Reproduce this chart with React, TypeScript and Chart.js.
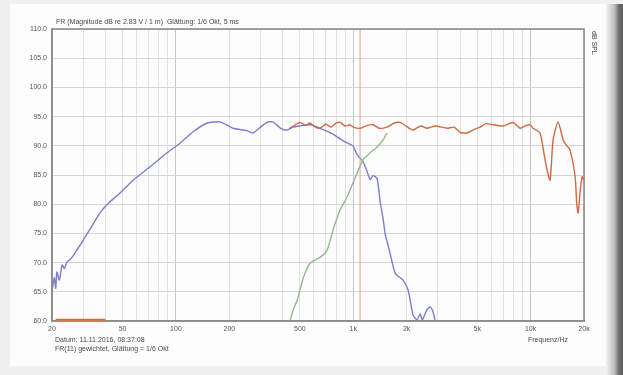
import React, { useEffect, useRef } from "react";
import { Chart, registerables } from "chart.js";

Chart.register(...registerables);

// ---------- data ----------
const wooferFreq = [20, 20.6, 21, 21.3, 22, 22.8, 23.5, 24.3, 25.8, 27.7, 32, 37.3, 42, 48.4, 57.3, 71.4, 89.1, 105, 125, 150, 177, 210, 250, 272, 300, 326, 352, 390, 423, 457, 500, 570, 650, 769, 842, 922, 1000, 1050, 1135, 1197, 1244, 1292, 1362, 1417, 1473, 1511, 1600, 1721, 1837, 1910, 2038, 2174, 2292, 2383, 2450, 2608, 2711, 2800, 2892];
const wooferDb = [65.0, 67.4, 65.6, 68.4, 67.0, 69.6, 69.0, 70.1, 70.8, 72.2, 75.2, 78.5, 80.3, 81.9, 84.1, 86.4, 88.8, 90.4, 92.4, 93.9, 94.1, 93.0, 92.6, 92.2, 93.2, 94.0, 94.1, 93.0, 92.7, 93.2, 93.4, 93.6, 93.0, 92.0, 91.2, 90.5, 89.9, 88.5, 87.3, 85.6, 84.2, 84.9, 84.4, 80.5, 77.5, 75.0, 72.0, 68.2, 67.4, 67.0, 65.3, 61.0, 60.2, 61.2, 60.2, 62.0, 62.4, 61.8, 60.2];

const tweeterFreq = [21, 40, 41, 440, 470, 500, 540, 570, 610, 650, 700, 750, 800, 842, 900, 960, 1000, 1092, 1200, 1292, 1400, 1550, 1700, 1837, 2000, 2174, 2400, 2608, 2900, 3381, 3700, 4000, 4385, 4800, 5189, 5600, 6140, 7000, 7960, 8725, 9300, 9933, 10326, 11300, 12000, 12390, 12880, 13390, 14290, 15250, 16000, 16700, 17830, 18200, 18540, 19000, 19510, 20000];
const tweeterDb = [60.25, 60.25, null, 93.0, 93.6, 94.0, 93.5, 93.9, 93.2, 93.0, 93.7, 93.2, 93.9, 94.0, 93.4, 93.6, 93.2, 93.0, 93.5, 93.6, 93.0, 93.2, 93.9, 94.0, 93.3, 92.7, 93.4, 93.0, 93.4, 93.0, 93.2, 92.3, 92.2, 92.8, 93.2, 93.8, 93.6, 93.4, 94.0, 93.0, 93.4, 93.6, 93.0, 92.2, 88.0, 85.8, 84.1, 91.0, 94.1, 91.0, 90.0, 89.3, 84.7, 80.0, 78.5, 82.0, 84.7, 84.0];

const midFreq = [441, 460, 483, 524, 570, 650, 711, 769, 842, 922, 1050, 1135, 1244, 1362, 1473, 1550];
const midDb = [60.2, 62.0, 63.6, 67.5, 69.9, 70.9, 72.1, 75.6, 79.0, 81.2, 85.3, 87.6, 88.8, 89.8, 91.0, 92.2];

const crossoverHz = 1092;

const xGridFreqs = [
  20, 30, 40, 50, 60, 70, 80, 90,
  100, 200, 300, 400, 500, 600, 700, 800, 900,
  1000, 2000, 3000, 4000, 5000, 6000, 7000, 8000, 9000,
  10000, 20000,
];
const xLabels: Record<number, string> = {
  20: "20", 50: "50", 100: "100", 200: "200", 500: "500",
  1000: "1k", 2000: "2k", 5000: "5k", 10000: "10k", 20000: "20k",
};
const yMin = 60;
const yMax = 110;
const yStep = 5;

const titleText = "FR (Magnitude dB re 2.83 V / 1 m)  Glättung: 1/6 Okt, 5 ms";
const footLine1 = "Datum: 11.11.2016, 08:37:08";
const footLine2 = "FR(11) gewichtet, Glättung = 1/6 Okt";
const xTitle = "Frequenz/Hz";
const yTitle = "dB SPL";

const toPoints = (f: number[], v: (number | null)[]) => f.map((x, i) => ({ x, y: v[i] }));

export default function App() {
  const ref = useRef<HTMLCanvasElement | null>(null);

  useEffect(() => {
    const canvas = ref.current;
    if (!canvas) return;

    const decorations = {
      id: "decorations",
      beforeDraw(chart: any) {
        const c = chart.ctx;
        c.save();
        c.fillStyle = "#f0f0f0";
        c.fillRect(0, 0, 623, 375);
        c.fillStyle = "#fdfdfd";
        c.fillRect(10, 4, 604, 362);
        const g = c.createLinearGradient(606, 0, 623, 0);
        g.addColorStop(0, "#f4f4f4");
        g.addColorStop(0.5, "#bdbdbd");
        g.addColorStop(0.75, "#6e6e6e");
        g.addColorStop(1, "#5e5e5e");
        c.fillStyle = g;
        c.fillRect(606, 4, 17, 371);
        c.restore();
      },
      afterDraw(chart: any) {
        const c = chart.ctx;
        const a = chart.chartArea;
        c.save();
        c.strokeStyle = "#8c8c8c";
        c.lineWidth = 1.6;
        c.strokeRect(a.left, a.top, a.right - a.left, a.bottom - a.top);
        // tweeter floor segment drawn over the bottom axis line
        const xs = chart.scales.x;
        c.strokeStyle = "#d4775a";
        c.lineWidth = 1.8;
        c.beginPath();
        c.moveTo(xs.getPixelForValue(tweeterFreq[0]), a.bottom);
        c.lineTo(xs.getPixelForValue(tweeterFreq[1]), a.bottom);
        c.stroke();
        c.fillStyle = "#4a4a4a";
        c.font = "7px 'Liberation Sans', Arial, sans-serif";
        c.textBaseline = "alphabetic";
        c.textAlign = "left";
        c.fillText(titleText, a.left + 4, a.top - 5);
        c.fillText(footLine1, a.left + 3, a.bottom + 21);
        c.fillText(footLine2, a.left + 3, a.bottom + 30);
        c.textAlign = "right";
        c.fillText(xTitle, a.right - 16, a.bottom + 21);
        c.translate(a.right + 8, a.top + 2);
        c.rotate(Math.PI / 2);
        c.textAlign = "left";
        c.fillText(yTitle, 0, 0);
        c.restore();
      },
    };

    const chart = new Chart(canvas, {
      type: "line",
      data: {
        datasets: [
          {
            label: "Hochtöner",
            data: toPoints(tweeterFreq, tweeterDb),
            borderColor: "#cf6b45",
            borderWidth: 1.4,
            pointRadius: 0,
            tension: 0.2,
            spanGaps: false,
          },
          {
            label: "Mitteltöner",
            data: toPoints(midFreq, midDb),
            borderColor: "#93ba8c",
            borderWidth: 1.4,
            pointRadius: 0,
            tension: 0.2,
          },
          {
            label: "Tieftöner",
            data: toPoints(wooferFreq, wooferDb),
            borderColor: "#7a7fcb",
            borderWidth: 1.4,
            pointRadius: 0,
            tension: 0.2,
          },
          {
            label: "Trennfrequenz",
            data: [{ x: crossoverHz, y: yMin }, { x: crossoverHz, y: yMax }],
            borderColor: "#e4a08a",
            borderWidth: 1,
            pointRadius: 0,
          },
        ],
      },
      options: {
        responsive: false,
        animation: false,
        events: [],
        layout: { padding: { left: 0, top: 29, right: 39, bottom: 0 } },
        plugins: { legend: { display: false }, tooltip: { enabled: false }, title: { display: false } },
        scales: {
          x: {
            type: "logarithmic",
            min: 20,
            max: 20000,
            afterFit: (s: any) => { s.height = 54; },
            afterBuildTicks: (s: any) => { s.ticks = xGridFreqs.map((v) => ({ value: v })); },
            ticks: {
              autoSkip: false,
              maxRotation: 0,
              padding: 4,
              color: "#555",
              font: { size: 7, family: "'Liberation Sans', Arial, sans-serif" },
              callback: (v: any) => xLabels[Number(v)] ?? "",
            },
            grid: {
              drawTicks: false,
              lineWidth: 1,
              color: (ctx: any) => {
                const v = ctx.tick ? ctx.tick.value : 0;
                const lg = Math.log10(v);
                return Math.abs(lg - Math.round(lg)) < 1e-6 ? "#c6c6c6" : "#e0e0e0";
              },
            },
            border: { display: true, color: "#8c8c8c", width: 1.6 },
          },
          y: {
            type: "linear",
            min: yMin,
            max: yMax,
            afterFit: (s: any) => { s.width = 52; },
            ticks: {
              stepSize: yStep,
              padding: 5,
              color: "#555",
              font: { size: 7, family: "'Liberation Sans', Arial, sans-serif" },
              callback: (v: any) => Number(v).toFixed(1),
            },
            grid: { drawTicks: false, color: "#d6d6d6", lineWidth: 1 },
            border: { display: true, color: "#8c8c8c", width: 1.6 },
          },
        },
      },
      plugins: [decorations],
    } as any);

    return () => chart.destroy();
  }, []);

  return (
    <div style={{ position: "fixed", left: 0, top: 0, width: 623, height: 375, overflow: "hidden" }}>
      <canvas
        ref={ref}
        width={623}
        height={375}
        style={{ width: 623, height: 375, display: "block", filter: "blur(0.45px)" }}
      />
    </div>
  );
}
